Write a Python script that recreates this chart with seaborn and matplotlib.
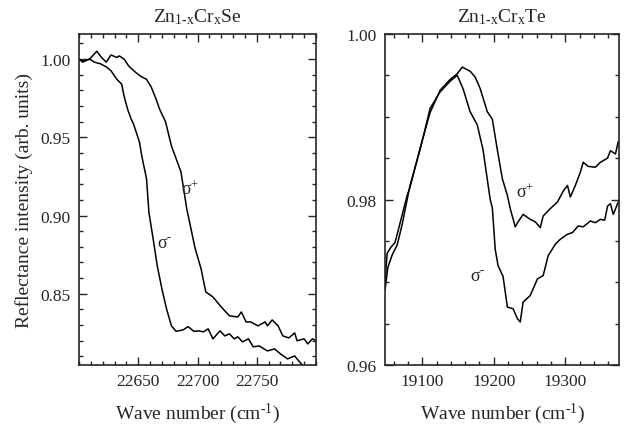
import numpy as np
import pandas as pd
import matplotlib
matplotlib.use("Agg")
import matplotlib.pyplot as plt
from matplotlib.ticker import MultipleLocator
import seaborn as sns

# ZnCrSe panel
se_plus_x = [22599, 22603, 22609, 22615, 22619, 22623, 22627, 22632, 22634, 22638, 22642, 22647,
             22652, 22657, 22661, 22665, 22668, 22673, 22678, 22686, 22691, 22698, 22703, 22707,
             22713, 22720, 22727, 22734, 22737, 22741, 22745, 22751, 22757, 22759, 22763, 22768,
             22772, 22777, 22782, 22784, 22790, 22793, 22797, 22800]
se_plus_y = [1.001, 0.998, 1.000, 1.005, 1.001, 0.998, 1.0026, 1.001, 1.002, 1.000, 0.9955, 0.992,
             0.989, 0.987, 0.982, 0.9745, 0.968, 0.960, 0.9445, 0.928, 0.904, 0.879, 0.866, 0.8512,
             0.848, 0.8416, 0.8359, 0.8352, 0.8384, 0.832, 0.832, 0.8295, 0.832, 0.8295, 0.8333,
             0.8295, 0.8231, 0.8218, 0.825, 0.820, 0.8212, 0.818, 0.8212, 0.820]
se_minus_x = [22599, 22603, 22609, 22613, 22618, 22623, 22627, 22632, 22636, 22638, 22641, 22644,
              22646, 22651, 22653, 22657, 22659, 22663, 22666, 22670, 22674, 22678, 22682, 22688,
              22692, 22697, 22701, 22705, 22709, 22713, 22719, 22723, 22727, 22731, 22734, 22738,
              22743, 22747, 22752, 22759, 22765, 22770, 22776, 22782, 22784, 22789]
se_minus_y = [1.000, 0.9987, 1.000, 0.998, 0.997, 0.995, 0.9925, 0.987, 0.984, 0.9764, 0.968,
              0.9617, 0.9585, 0.947, 0.938, 0.9234, 0.902, 0.883, 0.868, 0.853, 0.840, 0.8295,
              0.826, 0.827, 0.829, 0.826, 0.8263, 0.8257, 0.8276, 0.8212, 0.8263, 0.8231, 0.8244,
              0.8212, 0.8225, 0.8193, 0.8212, 0.8161, 0.8167, 0.8135, 0.8148, 0.8116, 0.8084,
              0.8103, 0.8084, 0.8040]

# ZnCrTe panel
te_minus_x = [19048, 19052, 19058, 19065, 19072, 19079, 19083, 19097, 19111, 19125, 19139, 19149,
              19157, 19167, 19177, 19185, 19195, 19198, 19202, 19206, 19213, 19219, 19227, 19233,
              19237, 19241, 19251, 19261, 19269, 19276, 19286, 19293, 19303, 19310, 19318, 19325,
              19335, 19342, 19349, 19355, 19359, 19363, 19367, 19374]
te_minus_y = [0.9690, 0.9718, 0.9733, 0.9745, 0.9770, 0.9800, 0.9817, 0.9860, 0.9910, 0.9930,
              0.9943, 0.9950, 0.9934, 0.9906, 0.9890, 0.9860, 0.9800, 0.9790, 0.9740, 0.9720,
              0.9707, 0.9670, 0.9668, 0.9656, 0.9652, 0.9676, 0.9684, 0.9704, 0.9708, 0.9732,
              0.9746, 0.9752, 0.9758, 0.9760, 0.9768, 0.9767, 0.9774, 0.9772, 0.9776, 0.9775,
              0.9792, 0.9795, 0.9782, 0.9797]
te_plus_x = [19048, 19051, 19056, 19062, 19068, 19079, 19083, 19097, 19111, 19125, 19139, 19149,
             19156, 19167, 19174, 19181, 19191, 19198, 19205, 19212, 19219, 19223, 19230, 19234,
             19241, 19251, 19258, 19265, 19269, 19279, 19289, 19297, 19303, 19307, 19314, 19321,
             19325, 19332, 19342, 19349, 19359, 19363, 19370, 19374]
te_plus_y = [0.9700, 0.9735, 0.9742, 0.9748, 0.9768, 0.9805, 0.9815, 0.9862, 0.9905, 0.9932,
             0.9945, 0.9952, 0.9960, 0.9955, 0.9948, 0.9934, 0.9906, 0.9897, 0.9860, 0.9825,
             0.9805, 0.9789, 0.9767, 0.9773, 0.9782, 0.9776, 0.9773, 0.9766, 0.9780, 0.9789,
             0.9797, 0.9810, 0.9817, 0.9803, 0.9817, 0.9833, 0.9845, 0.9840, 0.9839, 0.9845,
             0.9850, 0.9859, 0.9855, 0.9870]

titles = [r"Zn$_{1\text{-}x}$Cr$_{x}$Se", r"Zn$_{1\text{-}x}$Cr$_{x}$Te"]
ylabel = "Reflectance intensity (arb. units)"
xlabel = r"Wave number (cm$^{\text{-}1}$)"
sig_plus = r"$\sigma^{+}$"
sig_minus = r"$\sigma^{\text{-}}$"

sns.set_style("ticks")
plt.rcParams['font.family'] = ['Liberation Serif', 'DejaVu Serif']
plt.rcParams['mathtext.fontset'] = 'custom'
plt.rcParams['mathtext.rm'] = 'Liberation Serif'
plt.rcParams['mathtext.it'] = 'Liberation Serif'
plt.rcParams['mathtext.default'] = 'rm'

fig = plt.figure(figsize=(6.28, 4.27), dpi=100)
ax1 = fig.add_axes([79/628, 1-366/427, 237/628, 331/427])
ax2 = fig.add_axes([385/628, 1-366/427, 234/628, 331/427])

def frame(x, y, s):
    return pd.DataFrame({"x": x, "y": y, "s": s})

d1 = pd.concat([frame(se_plus_x, se_plus_y, "p"), frame(se_minus_x, se_minus_y, "m")])
d2 = pd.concat([frame(te_plus_x, te_plus_y, "p"), frame(te_minus_x, te_minus_y, "m")])
for ax, d in [(ax1, d1), (ax2, d2)]:
    sns.lineplot(data=d, x="x", y="y", units="s", estimator=None, color="black",
                 linewidth=1.1, ax=ax, legend=False, sort=False)
    ax.set_xlabel(xlabel, fontsize=14, labelpad=8)
    ax.set_ylabel("")
    for sp in ax.spines.values():
        sp.set_linewidth(1.2)
    ax.tick_params(which="both", direction="in", top=True, right=True, labelsize=12.5,
                   width=1.0, pad=6)
    ax.tick_params(which="major", length=6)
    ax.tick_params(which="minor", length=3)

ax1.set_xlim(22600, 22800)
ax1.set_ylim(0.8045, 1.016)
ax1.set_xticks([22650, 22700, 22750])
ax1.xaxis.set_minor_locator(MultipleLocator(10))
ax1.set_yticks([0.85, 0.90, 0.95, 1.00])
ax1.set_yticklabels(["0.85", "0.90", "0.95", "1.00"])
ax1.yaxis.set_minor_locator(MultipleLocator(0.01))
ax1.set_ylabel(ylabel, fontsize=14, labelpad=5)
ax1.set_title(titles[0], fontsize=14, pad=9)
ax1.text(22694, 0.917, sig_plus, fontsize=13, ha="center", va="center")
ax1.text(22672, 0.882, sig_minus, fontsize=13, ha="center", va="center")

ax2.set_xlim(19048, 19375)
ax2.set_ylim(0.96, 1.00)
ax2.set_xticks([19100, 19200, 19300])
ax2.xaxis.set_minor_locator(MultipleLocator(20))
ax2.set_yticks([0.96, 0.98, 1.00])
ax2.set_yticklabels(["0.96", "0.98", "1.00"])
ax2.yaxis.set_minor_locator(MultipleLocator(0.005))
ax2.set_title(titles[1], fontsize=14, pad=9)
ax2.text(19244, 0.981, sig_plus, fontsize=13, ha="center", va="center")
ax2.text(19178, 0.9707, sig_minus, fontsize=13, ha="center", va="center")

fig.savefig("out.png", dpi=100)
